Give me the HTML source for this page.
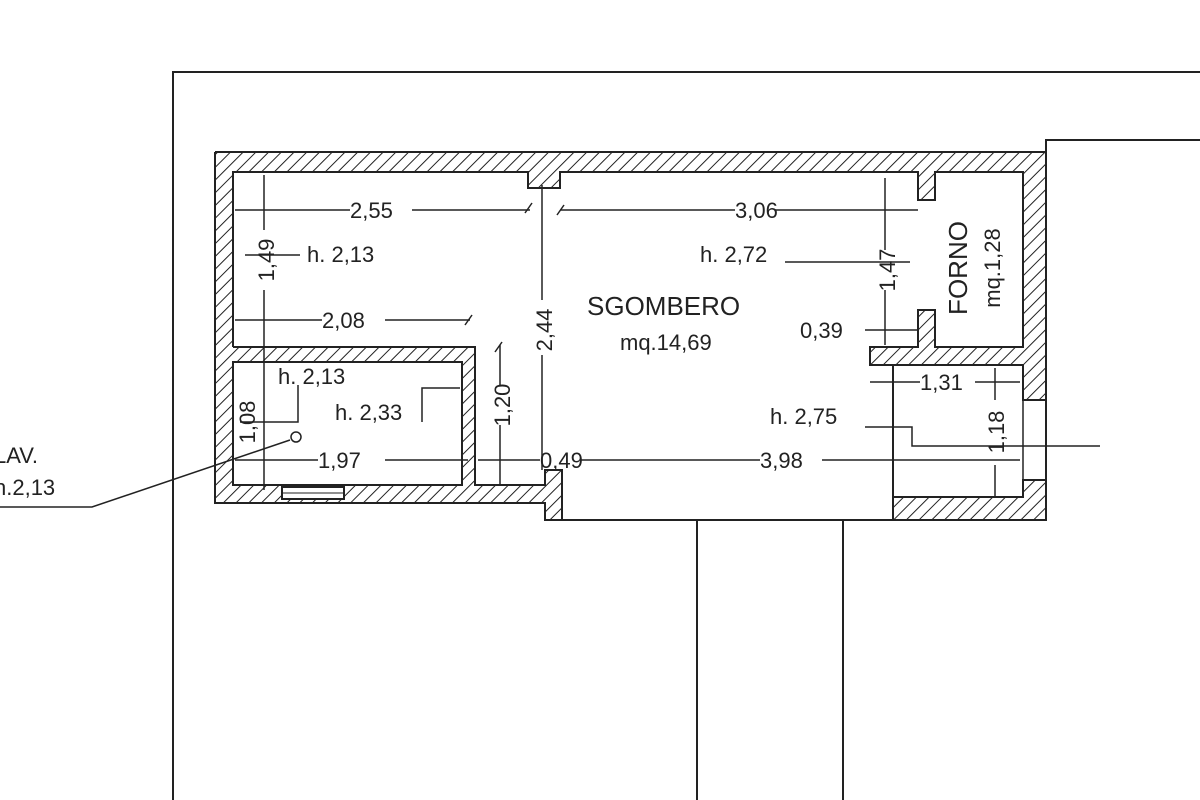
<!DOCTYPE html>
<html><head><style>body{margin:0;background:#fff}svg{display:block}text{font-family:"Liberation Sans",sans-serif;fill:#222}</style></head>
<body>
<svg width="1200" height="800" viewBox="0 0 1200 800" xmlns="http://www.w3.org/2000/svg">
<defs>
<pattern id="h" patternUnits="userSpaceOnUse" width="9" height="9" patternTransform="rotate(45)">
<rect width="9" height="9" fill="#fff"/><line x1="0" y1="0" x2="0" y2="9" stroke="#222" stroke-width="2"/>
</pattern>
</defs>
<g fill="url(#h)" stroke="none">
<rect x="215" y="152" width="831" height="20"/>
<rect x="215" y="152" width="18" height="351"/>
<rect x="215" y="485" width="330" height="18"/>
<rect x="545" y="470" width="17" height="50"/>
<rect x="528" y="172" width="32" height="16"/>
<rect x="918" y="172" width="17" height="28"/>
<rect x="918" y="310" width="17" height="37"/>
<rect x="1023" y="152" width="23" height="248"/>
<rect x="233" y="347" width="242" height="15"/>
<rect x="462" y="347" width="13" height="138"/>
<rect x="870" y="347" width="153" height="18"/>
<rect x="893" y="497" width="153" height="23"/>
<rect x="1023" y="480" width="23" height="40"/>
</g>
<g stroke="#222" stroke-width="2" fill="none">
<polyline points="173,800 173,72 1200,72"/>
<polyline points="1046,152 1046,140 1200,140"/>
<line x1="697" y1="520" x2="697" y2="800"/>
<line x1="843" y1="520" x2="843" y2="800"/>
<polyline points="215,152 1046,152 1046,520 893,520"/>
<polyline points="215,152 215,503 545,503 545,520 893,520"/>
<polyline points="233,347 233,172 528,172 528,188 560,188 560,172 918,172 918,200 935,200 935,172 1023,172 1023,347 935,347 935,310 918,310 918,347 870,347 870,365 893,365 893,520"/>
<polyline points="233,347 475,347 475,485 545,485 545,470 562,470 562,520"/>
<rect x="233" y="362" width="229" height="123"/>
<polyline points="893,365 1023,365 1023,400 1046,400"/>
<polyline points="893,497 1023,497 1023,480 1046,480"/>
<line x1="1023" y1="400" x2="1023" y2="480" stroke-width="1.5"/>
<rect x="282" y="487" width="62" height="12" fill="#fff"/>
<line x1="282" y1="493" x2="344" y2="493" stroke-width="1"/>
</g>
<g stroke="#222" stroke-width="1.5" fill="none">
<line x1="235" y1="210" x2="350" y2="210"/><line x1="412" y1="210" x2="530" y2="210"/>
<line x1="560" y1="210" x2="735" y2="210"/><line x1="775" y1="210" x2="918" y2="210"/>
<line x1="235" y1="320" x2="322" y2="320"/><line x1="385" y1="320" x2="470" y2="320"/>
<line x1="264" y1="175" x2="264" y2="230"/><line x1="264" y1="290" x2="264" y2="490"/>
<line x1="542" y1="185" x2="542" y2="300"/><line x1="542" y1="355" x2="542" y2="470"/>
<line x1="500" y1="345" x2="500" y2="385"/><line x1="500" y1="425" x2="500" y2="485"/>
<line x1="235" y1="460" x2="318" y2="460"/><line x1="385" y1="460" x2="468" y2="460"/>
<line x1="478" y1="460" x2="540" y2="460"/><line x1="580" y1="460" x2="760" y2="460"/><line x1="822" y1="460" x2="1020" y2="460"/>
<line x1="885" y1="178" x2="885" y2="250"/><line x1="885" y1="290" x2="885" y2="345"/>
<line x1="865" y1="330" x2="918" y2="330"/>
<line x1="785" y1="262" x2="910" y2="262"/>
<line x1="245" y1="255" x2="300" y2="255"/>
<polyline points="240,422 298,422 298,385"/>
<polyline points="422,422 422,388 460,388"/>
<line x1="870" y1="382" x2="920" y2="382"/><line x1="975" y1="382" x2="1020" y2="382"/>
<line x1="995" y1="368" x2="995" y2="400"/><line x1="995" y1="465" x2="995" y2="497"/>
<polyline points="865,427 912,427 912,446 1100,446"/>
<polyline points="0,507 92,507 290,440"/>
<circle cx="296" cy="437" r="5"/>
<line x1="525" y1="213" x2="532" y2="203"/><line x1="557" y1="215" x2="564" y2="205"/>
<line x1="465" y1="325" x2="472" y2="315"/><line x1="495" y1="352" x2="502" y2="342"/>
</g>
<g font-size="22">
<text x="350" y="218">2,55</text>
<text x="735" y="218">3,06</text>
<text x="322" y="328">2,08</text>
<text x="318" y="468">1,97</text>
<text x="760" y="468">3,98</text>
<text x="540" y="468">0,49</text>
<text x="800" y="338">0,39</text>
<text x="920" y="390">1,31</text>
<text x="307" y="262">h. 2,13</text>
<text x="700" y="262">h. 2,72</text>
<text x="278" y="384">h. 2,13</text>
<text x="335" y="420">h. 2,33</text>
<text x="770" y="424">h. 2,75</text>
<text x="-6" y="463">LAV.</text>
<text x="-6" y="495">h.2,13</text>
<text x="587" y="315" font-size="26">SGOMBERO</text>
<text x="620" y="350">mq.14,69</text>
<text transform="translate(274,260) rotate(-90)" text-anchor="middle">1,49</text>
<text transform="translate(552,330) rotate(-90)" text-anchor="middle">2,44</text>
<text transform="translate(510,405) rotate(-90)" text-anchor="middle">1,20</text>
<text transform="translate(895,270) rotate(-90)" text-anchor="middle">1,47</text>
<text transform="translate(255,422) rotate(-90)" text-anchor="middle">1,08</text>
<text transform="translate(1004,432) rotate(-90)" text-anchor="middle">1,18</text>
<text transform="translate(967,268) rotate(-90)" text-anchor="middle" font-size="26">FORNO</text>
<text transform="translate(1000,268) rotate(-90)" text-anchor="middle">mq.1,28</text>
</g>
</svg>
</body></html>
